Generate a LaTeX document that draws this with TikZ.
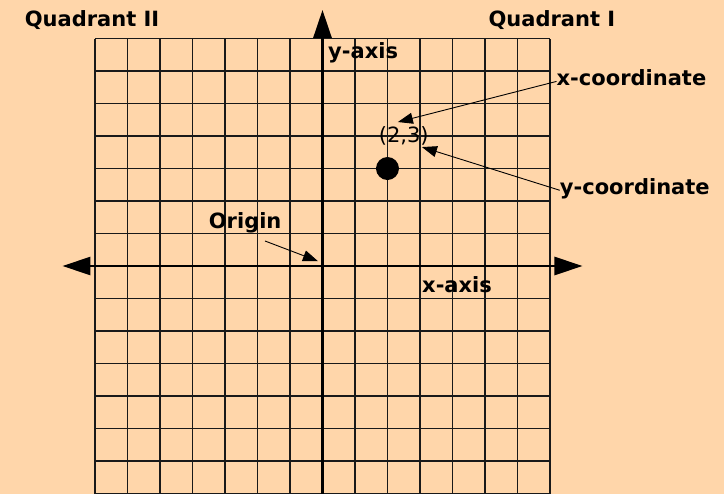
\documentclass[tikz,border=0pt]{standalone}
\usepackage{fontspec}
\setmainfont{DejaVu Sans}
\usetikzlibrary{arrows.meta}
\definecolor{peach}{RGB}{255,214,170}

\begin{document}
\begin{tikzpicture}[
    x=32.5pt, y=32.5pt,
    lbl/.style={font=\fontsize{21}{24}\selectfont\bfseries, inner sep=0pt},
    gridline/.style={line width=1.7pt, black!90},
    axis/.style={line width=2.8pt, >={Triangle[length=28pt, width=18pt]}},
    pointer/.style={line width=0.9pt, -{Triangle[length=15pt, width=11pt]}}
]
\useasboundingbox[fill=peach] (-9.923,-7.015) rectangle (12.354,8.185);
\draw[gridline, step=1] (-7,-7) grid (7,7);
\draw[axis, <->] (-8,0) -- (8,0);
\draw[axis, ->] (0,-7.015) -- (0,7.88);
\coordinate (origin) at (-0.14,0.15);
\node[circle, fill, minimum size=23pt, inner sep=0pt] (pt) at (2,3) {};
\node[lbl, font=\fontsize{21}{24}\selectfont] (coord) at (2.5,4) {(2,3)};
\coordinate (xtip) at (2.32,4.43);
\coordinate (ytip) at (3.06,3.66);
\node[lbl] (q2) at (-7.09,7.57) {Quadrant II};
\node[lbl] (q1) at (7.06,7.57) {Quadrant I};
\node[lbl] (yax) at (1.25,6.55) {y-axis};
\node[lbl] (xax) at (4.14,-0.58) {x-axis};
\node[lbl] (orig) at (-2.38,1.32) {Origin};
\node[lbl, anchor=west] (xc) at (7.2,5.78) {x-coordinate};
\node[lbl, anchor=west] (yc) at (7.3,2.38) {y-coordinate};
\draw[pointer] (xc.west) ++(0,-0.1) -- (xtip);
\draw[pointer] (yc.west) ++(0,-0.05) -- (ytip);
\draw[pointer] (-1.77,0.77) -- (origin);
\end{tikzpicture}
\end{document}
